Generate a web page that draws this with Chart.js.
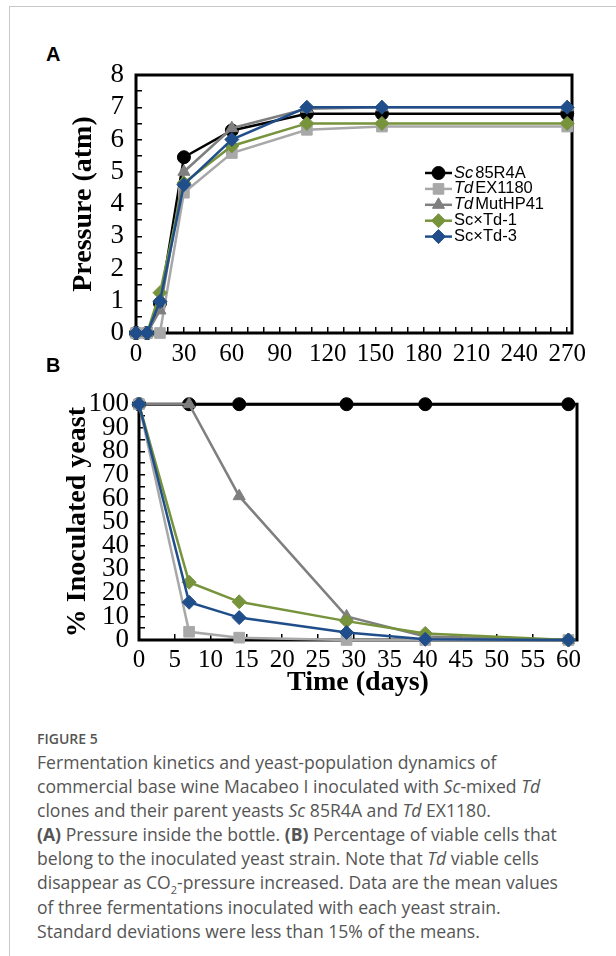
<!DOCTYPE html>
<html lang="en">
<head>
<meta charset="UTF-8">
<meta name="viewport" content="width=device-width, initial-scale=1.0">
<title>Figure 5 - Fermentation kinetics</title>
<script src="https://cdn.jsdelivr.net/npm/chart.js"></script>
<style>
    body {
        margin: 0;
        width: 616px;
        height: 956px;
        position: relative;
        overflow: hidden;
        background: #fff;
        font-family: 'Open Sans', sans-serif;
    }

    .frame {
        position: absolute;
        left: 9px;
        top: 6px;
        width: 620px;
        height: 960px;
        border-top: 1px solid #c8c8c8;
        border-left: 1px solid #c8c8c8;
    }

    .panel-label {
        position: absolute;
        left: 46px;
        font-family: 'Liberation Sans', Arial, sans-serif;
        font-weight: bold;
        font-size: 20px;
        line-height: 20px;
        color: #000;
    }

    .chart-box {
        position: absolute;
        left: 0;
        width: 616px;
    }

    .caption {
        position: absolute;
        left: 37px;
        top: 730px;
        color: #555;
        white-space: nowrap;
    }

    .caption .fig {
        font-size: 14px;
        line-height: 18px;
        font-weight: 600;
    }

    .caption p {
        margin: 2px 0 0 0;
        font-size: 17.6px;
        line-height: 24.1px;
    }
</style>
</head>
<body>
    <div class="frame"></div>

    <div class="panel-label" style="top:44px">A</div>
    <div class="chart-box" style="top:30px;height:350px">
        <canvas id="pressureChart"></canvas>
    </div>

    <div class="panel-label" style="top:355px">B</div>
    <div class="chart-box" style="top:372px;height:330px">
        <canvas id="viabilityChart"></canvas>
    </div>

    <div class="caption">
        <div class="fig">FIGURE 5</div>
        <p>
            Fermentation kinetics and yeast-population dynamics of<br>
            commercial base wine Macabeo I inoculated with <i>Sc</i>-mixed <i>Td</i><br>
            clones and their parent yeasts <i>Sc</i> 85R4A and <i>Td</i> EX1180.<br>
            <b>(A)</b> Pressure inside the bottle. <b>(B)</b> Percentage of viable cells that<br>
            belong to the inoculated yeast strain. Note that <i>Td</i> viable cells<br>
            disappear as CO<sub style="font-size:11px;line-height:0">2</sub>-pressure increased. Data are the mean values<br>
            of three fermentations inoculated with each yeast strain.<br>
            Standard deviations were less than 15% of the means.
        </p>
    </div>

<script>
    // series names (first word italic where flagged)
    const seriesNames = ['Sc 85R4A', 'Td EX1180', 'Td MutHP41', 'Sc×Td-1', 'Sc×Td-3'];
    const italicFirstWord = [true, true, true, false, false];

    // Panel A: pressure (atm) vs time (days)
    const pressureDays = [0, 7, 15, 30, 60, 107, 154, 270];
    const pressureSc85R4A = [0, 0, 0.92, 5.45, 6.28, 6.8, 6.8, 6.8];
    const pressureTdEX1180 = [0, 0, 0, 4.35, 5.58, 6.3, 6.4, 6.4];
    const pressureTdMutHP41 = [0, 0, 0.7, 5.0, 6.35, 6.95, 7.0, 7.0];
    const pressureScTd1 = [0, 0, 1.25, 4.65, 5.8, 6.5, 6.5, 6.5];
    const pressureScTd3 = [0, 0, 0.98, 4.6, 6.0, 7.0, 7.0, 7.0];

    // Panel B: % inoculated yeast vs time (days)
    const viabilityDays = [0, 7, 14, 29, 40, 60];
    const viabilitySc85R4A = [100, 100, 100, 100, 100, 100];
    const viabilityTdEX1180 = [100, 3.5, 1, 0, 0, 0];
    const viabilityTdMutHP41 = [100, 100, 61, 10, 1.5, 0];
    const viabilityScTd1 = [100, 24.5, 16.2, 8, 2.8, 0];
    const viabilityScTd3 = [100, 16, 9.5, 3.2, 0.3, 0];

    // styles
    const seriesColors = ['#000000', '#a8a8a8', '#7f7f7f', '#77933c', '#1f4e8a'];
    const seriesMarkers = ['circle', 'rect', 'triangle', 'rectRot', 'rectRot'];
    const markerRadius = [6.5, 7.5, 7, 7, 7];

    const serif = "'Liberation Serif', 'Times New Roman', serif";

    const buildDatasets = (days, seriesList) => seriesList.map((vals, i) => ({
        label: seriesNames[i],
        data: days.map((d, j) => ({ x: d, y: vals[j] })),
        borderColor: seriesColors[i],
        backgroundColor: seriesColors[i],
        pointStyle: seriesMarkers[i],
        pointRadius: markerRadius[i],
        pointBorderWidth: 1,
        borderWidth: 2.5,
        order: seriesList.length - i,
        clip: false,
        tension: 0
    }));

    // black box around the plot area
    const framePlugin = {
        id: 'frame',
        beforeDatasetsDraw(chart) {
            const { ctx, chartArea: a } = chart;
            ctx.save();
            ctx.strokeStyle = '#000';
            ctx.lineWidth = 3;
            ctx.strokeRect(a.left, a.top, a.right - a.left, a.bottom - a.top);
            ctx.restore();
        }
    };

    // legend drawn inside the plot, with italic genus prefix
    const inlineLegend = {
        id: 'inlineLegend',
        afterDraw(chart, args, opts) {
            if (!opts.show) return;
            const { ctx, chartArea: a } = chart;
            const x0 = a.left + opts.dx;
            const y0 = a.top + opts.dy;
            chart.data.datasets.forEach((ds, i) => {
                const y = y0 + i * opts.rowGap;
                ctx.save();
                ctx.strokeStyle = ds.borderColor;
                ctx.fillStyle = ds.backgroundColor;
                ctx.lineWidth = 2.5;
                ctx.beginPath();
                ctx.moveTo(x0, y);
                ctx.lineTo(x0 + opts.lineLen, y);
                ctx.stroke();
                ctx.lineWidth = 1;
                Chart.helpers.drawPoint(ctx, {
                    pointStyle: ds.pointStyle,
                    radius: ds.pointRadius,
                    borderWidth: 1,
                    rotation: 0
                }, x0 + opts.lineLen / 2, y);

                ctx.fillStyle = '#000';
                ctx.textBaseline = 'middle';
                ctx.textAlign = 'left';
                let tx = x0 + opts.lineLen + 2;
                let text = ds.label;
                if (italicFirstWord[i]) {
                    const parts = text.split(' ');
                    ctx.font = 'italic ' + opts.font;
                    ctx.fillText(parts[0], tx, y);
                    tx += ctx.measureText(parts[0]).width + 2;
                    text = parts.slice(1).join(' ');
                }
                ctx.font = opts.font;
                ctx.fillText(text, tx, y);
                ctx.restore();
            });
        }
    };

    const makeChart = (id, cfg) => new Chart(document.getElementById(id), {
        type: 'line',
        data: { datasets: buildDatasets(cfg.days, cfg.series) },
        options: {
            responsive: true,
            maintainAspectRatio: false,
            animation: false,
            layout: { padding: cfg.padding },
            plugins: {
                legend: { display: false },
                tooltip: { enabled: false },
                inlineLegend: cfg.legend
            },
            scales: {
                x: {
                    type: 'linear',
                    min: 0,
                    max: cfg.xMax,
                    afterFit: s => { s.height = cfg.xHeight; },
                    border: { display: false },
                    grid: { drawOnChartArea: false, drawTicks: true, tickLength: -6, color: '#000', lineWidth: 1.5 },
                    ticks: {
                        stepSize: cfg.xStep,
                        includeBounds: false,
                        autoSkip: false,
                        maxRotation: 0,
                        maxTicksLimit: 100,
                        padding: cfg.xTickPad,
                        color: '#000',
                        font: { family: serif, size: 25 },
                        callback: v => (v % cfg.xLabelEvery === 0 ? String(v) : '')
                    },
                    title: {
                        display: !!cfg.xTitle,
                        text: cfg.xTitle || '',
                        color: '#000',
                        font: { family: serif, size: 28, weight: 'bold' },
                        padding: { top: 0, bottom: 0 }
                    }
                },
                y: {
                    type: 'linear',
                    min: 0,
                    max: cfg.yMax,
                    afterFit: s => { s.width = 100; },
                    border: { display: false },
                    grid: { drawOnChartArea: false, drawTicks: true, tickLength: -6, color: '#000', lineWidth: 1.5 },
                    ticks: {
                        stepSize: cfg.yStep,
                        autoSkip: false,
                        maxTicksLimit: 100,
                        padding: cfg.yTickPad,
                        color: '#000',
                        font: { family: serif, size: 27 },
                        callback: v => (v % cfg.yLabelEvery === 0 ? String(v) : '')
                    },
                    title: {
                        display: true,
                        text: cfg.yTitle,
                        color: '#000',
                        font: { family: serif, size: 28, weight: 'bold' },
                        padding: { top: cfg.yTitlePad, bottom: 0 }
                    }
                }
            }
        },
        plugins: [framePlugin, inlineLegend]
    });

    // Panel A
    makeChart('pressureChart', {
        days: pressureDays,
        series: [pressureSc85R4A, pressureTdEX1180, pressureTdMutHP41, pressureScTd1, pressureScTd3],
        padding: { left: 36, right: 44, top: 45, bottom: 7 },
        xMax: 273, xStep: 10, xLabelEvery: 30, xHeight: 40, xTickPad: 12,
        yMax: 8, yStep: 0.5, yLabelEvery: 1, yTickPad: 18,
        yTitle: 'Pressure (atm)', yTitlePad: 31,
        legend: { show: true, dx: 289, dy: 98, rowGap: 15.9, lineLen: 27, font: "16.5px 'Liberation Sans', Arial, sans-serif" }
    });

    // Panel B
    makeChart('viabilityChart', {
        days: viabilityDays,
        series: [viabilitySc85R4A, viabilityTdEX1180, viabilityTdMutHP41, viabilityScTd1, viabilityScTd3],
        padding: { left: 39, right: 39, top: 14, bottom: 2 },
        xMax: 61.2, xStep: 5, xLabelEvery: 5, xHeight: 60, xTickPad: 11,
        xTitle: 'Time (days)',
        yMax: 100, yStep: 5, yLabelEvery: 10, yTickPad: 16,
        yTitle: '% Inoculated yeast', yTitlePad: 22,
        legend: { show: false }
    });
</script>
</body>
</html>
